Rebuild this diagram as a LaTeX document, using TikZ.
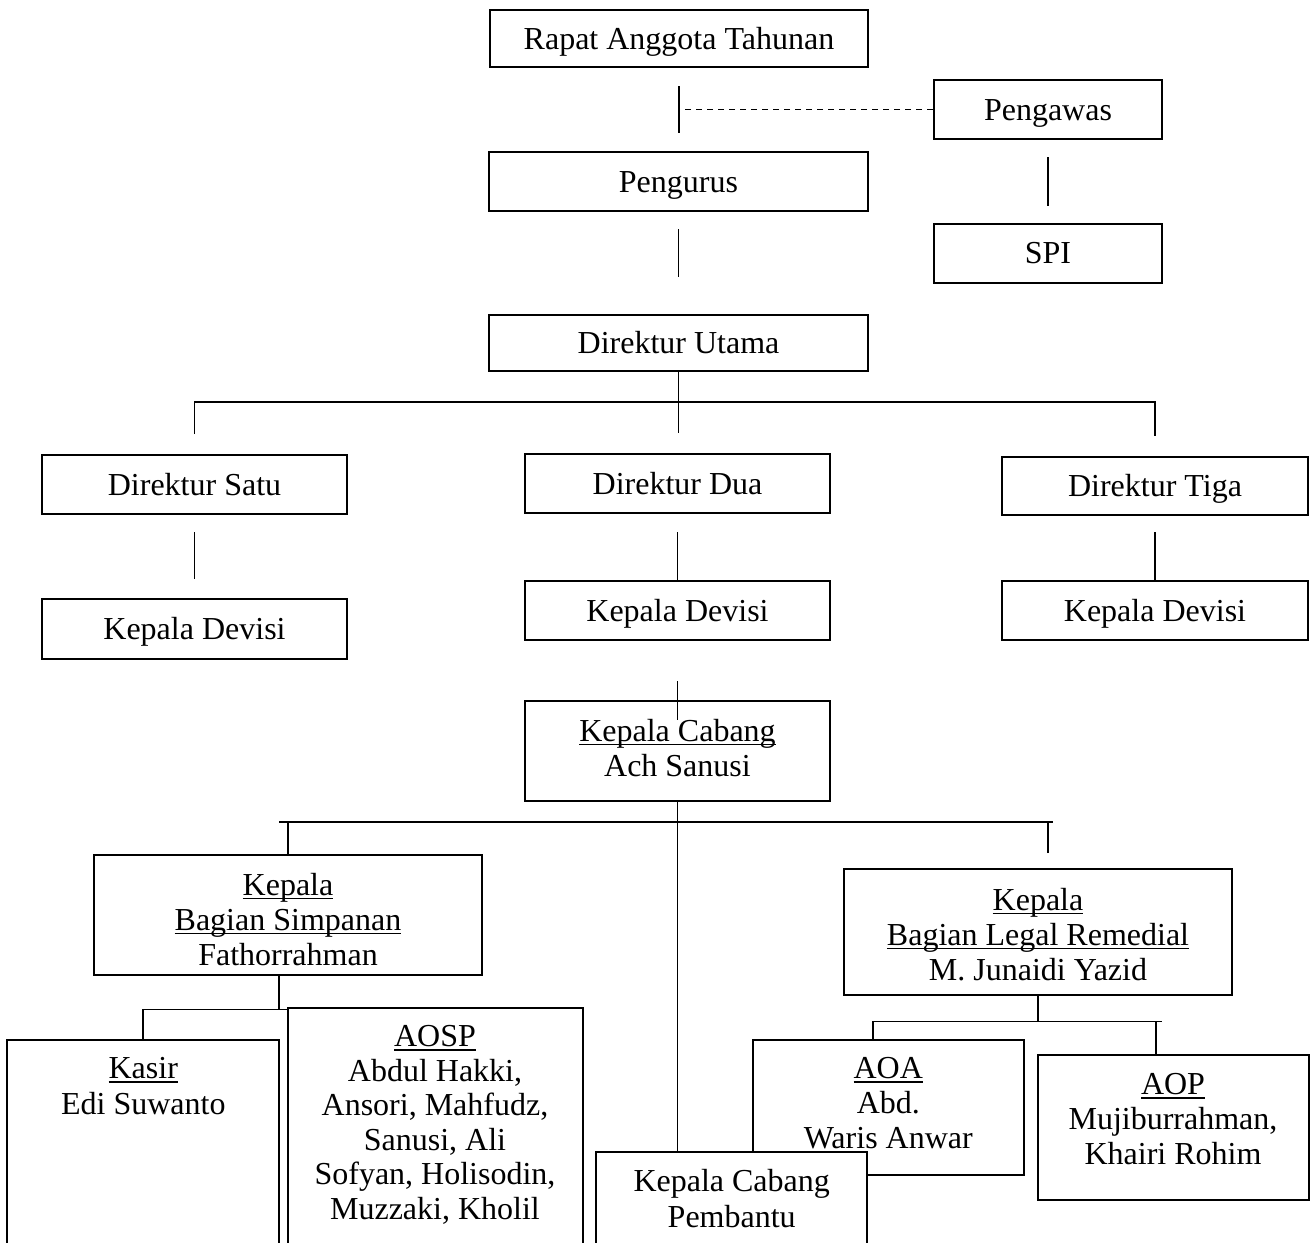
\documentclass[tikz,border=0pt]{standalone}
\usepackage{fontspec}
\setmainfont{Liberation Serif}
\usetikzlibrary{positioning, calc}
\newsavebox{\ulinebox}
\newcommand{\uln}[1]{\sbox{\ulinebox}{#1}\rlap{\rule[-4.3pt]{\wd\ulinebox}{1.6pt}}\usebox{\ulinebox}}
\tikzstyle{box} = [rectangle, draw=black, line width=2pt, align=center, inner sep=0pt, text height=21pt, text depth=0pt, font=\fontsize{32}{35}\selectfont]
\tikzstyle{topbox} = [box, anchor=north]
\tikzstyle{link} = [line width=1.7pt]
\tikzstyle{dashlink} = [link, dash pattern=on 6pt off 5pt]

\begin{document}
\begin{tikzpicture}[x=1pt, y=-1pt]

\fill [white] (0,0) rectangle (1310,1243);
\useasboundingbox (0,0) rectangle (1310,1243);
\clip (0,0) rectangle (1310,1243);

\node (rat) [box, minimum width=378pt, minimum height=57pt] at (679,38.5) {Rapat Anggota Tahunan};
\node (pengawas) [box, minimum width=228pt, minimum height=59pt] at (1048,109.5) {Pengawas};
\node (pengurus) [box, minimum width=379pt, minimum height=59pt] at (678.5,181.5) {Pengurus};
\node (spi) [box, minimum width=228pt, minimum height=59pt] at (1048,253) {SPI};
\node (dirut) [box, minimum width=379pt, minimum height=56pt] at (678.5,342.5) {Direktur Utama};

\node (dirsatu) [box, minimum width=305pt, minimum height=59pt] at (194.5,484.5) {Direktur Satu};
\node (dirdua) [box, minimum width=305pt, minimum height=59pt] at (677.5,483.5) {Direktur Dua};
\node (dirtiga) [box, minimum width=306pt, minimum height=58pt] at (1155,486) {Direktur Tiga};
\node (kdsatu) [box, minimum width=305pt, minimum height=60pt] at (194.5,629) {Kepala Devisi};
\node (kddua) [box, minimum width=305pt, minimum height=59pt] at (677.5,610.5) {Kepala Devisi};
\node (kdtiga) [box, minimum width=306pt, minimum height=59pt] at (1155,610.5) {Kepala Devisi};

\node (kacab) [topbox, minimum width=305pt, text height=75.5pt, text depth=24.5pt] at (677.5,699.5) {\uln{Kepala Cabang}\\Ach Sanusi};
\node (simp) [topbox, minimum width=388pt, text height=110.5pt, text depth=10pt] at (288,853.5) {\uln{Kepala}\\\uln{Bagian Simpanan}\\Fathorrahman};
\node (legal) [topbox, minimum width=388pt, text height=111pt, text depth=15pt] at (1038,868) {\uln{Kepala}\\\uln{Bagian Legal Remedial}\\M. Junaidi Yazid};

\node (kasir) [topbox, font=\fontsize{32}{36}\selectfont, minimum width=272pt, text height=74.5pt, text depth=300pt] at (143.3,1039) {\uln{Kasir}\\Edi Suwanto};
\node (aosp) [topbox, font=\fontsize{32}{34.6}\selectfont, minimum width=295pt, text height=211.5pt, text depth=300pt] at (435,1007) {\uln{AOSP}\\Abdul Hakki,\\Ansori, Mahfudz,\\Sanusi, Ali\\Sofyan, Holisodin,\\Muzzaki, Kholil};
\node (aoa) [topbox, minimum width=271pt, text height=108.3pt, text depth=26.7pt] at (888.3,1039) {\uln{AOA}\\Abd.\\Waris Anwar};
\node (aop) [topbox, minimum width=271pt, text height=110pt, text depth=35.5pt] at (1173,1053.5) {\uln{AOP}\\Mujiburrahman,\\Khairi Rohim};
\node (kcp) [topbox, fill=white, font=\fontsize{32}{36}\selectfont, minimum width=271pt, text height=75.3pt, text depth=200pt] at (731.7,1150.7) {Kepala Cabang\\Pembantu};

\draw [link, shorten <=18pt, shorten >=18pt] (rat.south) -- (rat.south |- pengurus.north);
\draw [dashlink] (pengawas.west) -- (pengawas.west -| rat.south);
\draw [link, shorten <=17pt, shorten >=37pt] (pengurus.south) -- (pengurus.south |- dirut.north);
\draw [link, shorten <=17pt, shorten >=17pt] (pengawas) -- (spi);

\coordinate (dbar) at (0,402);
\draw [link, shorten >=20pt] (dirut.south) -- (dirut.south |- dirdua.north);
\draw [link] ([yshift=20pt]dirsatu.north) |- (dbar -| dirtiga.north) -- ([yshift=20pt]dirtiga.north);
\draw [link, shorten <=17pt, shorten >=19pt] (dirsatu) -- (kdsatu);
\draw [link, shorten <=18pt] (dirdua) -- (kddua);
\draw [link, shorten <=16pt] (dirtiga) -- (kdtiga);
\draw [link, shorten <=40pt, shorten >=-20pt] (kddua) -- (kacab);

\coordinate (cbarl) at (279,822);
\coordinate (cbarr) at (1053,822);
\draw [link] (kacab.south) -- (kacab.south |- kcp.north);
\draw [link] (cbarl) -- (cbarr);
\draw [link] (simp.north) -- (simp.north |- cbarl);
\draw [link, shorten <=15pt] ([xshift=10pt]legal.north) -- ([xshift=10pt]legal.north |- cbarr);

\coordinate (sbar) at (0,1009.5);
\draw [link] ([xshift=-9pt]simp.south) -- ([xshift=-9pt]simp.south |- sbar);
\draw [link] (kasir.north) |- (sbar -| aosp.west);

\coordinate (lbar) at (0,1021.5);
\draw [link] (legal.south) -- (legal.south |- lbar);
\draw [link] ([xshift=-15.5pt]aoa.north) |- ([xshift=-11pt]aop.north |- lbar);
\draw [link] ([xshift=-17pt]aop.north) -- ([xshift=-17pt]aop.north |- lbar);

\end{tikzpicture}
\end{document}
